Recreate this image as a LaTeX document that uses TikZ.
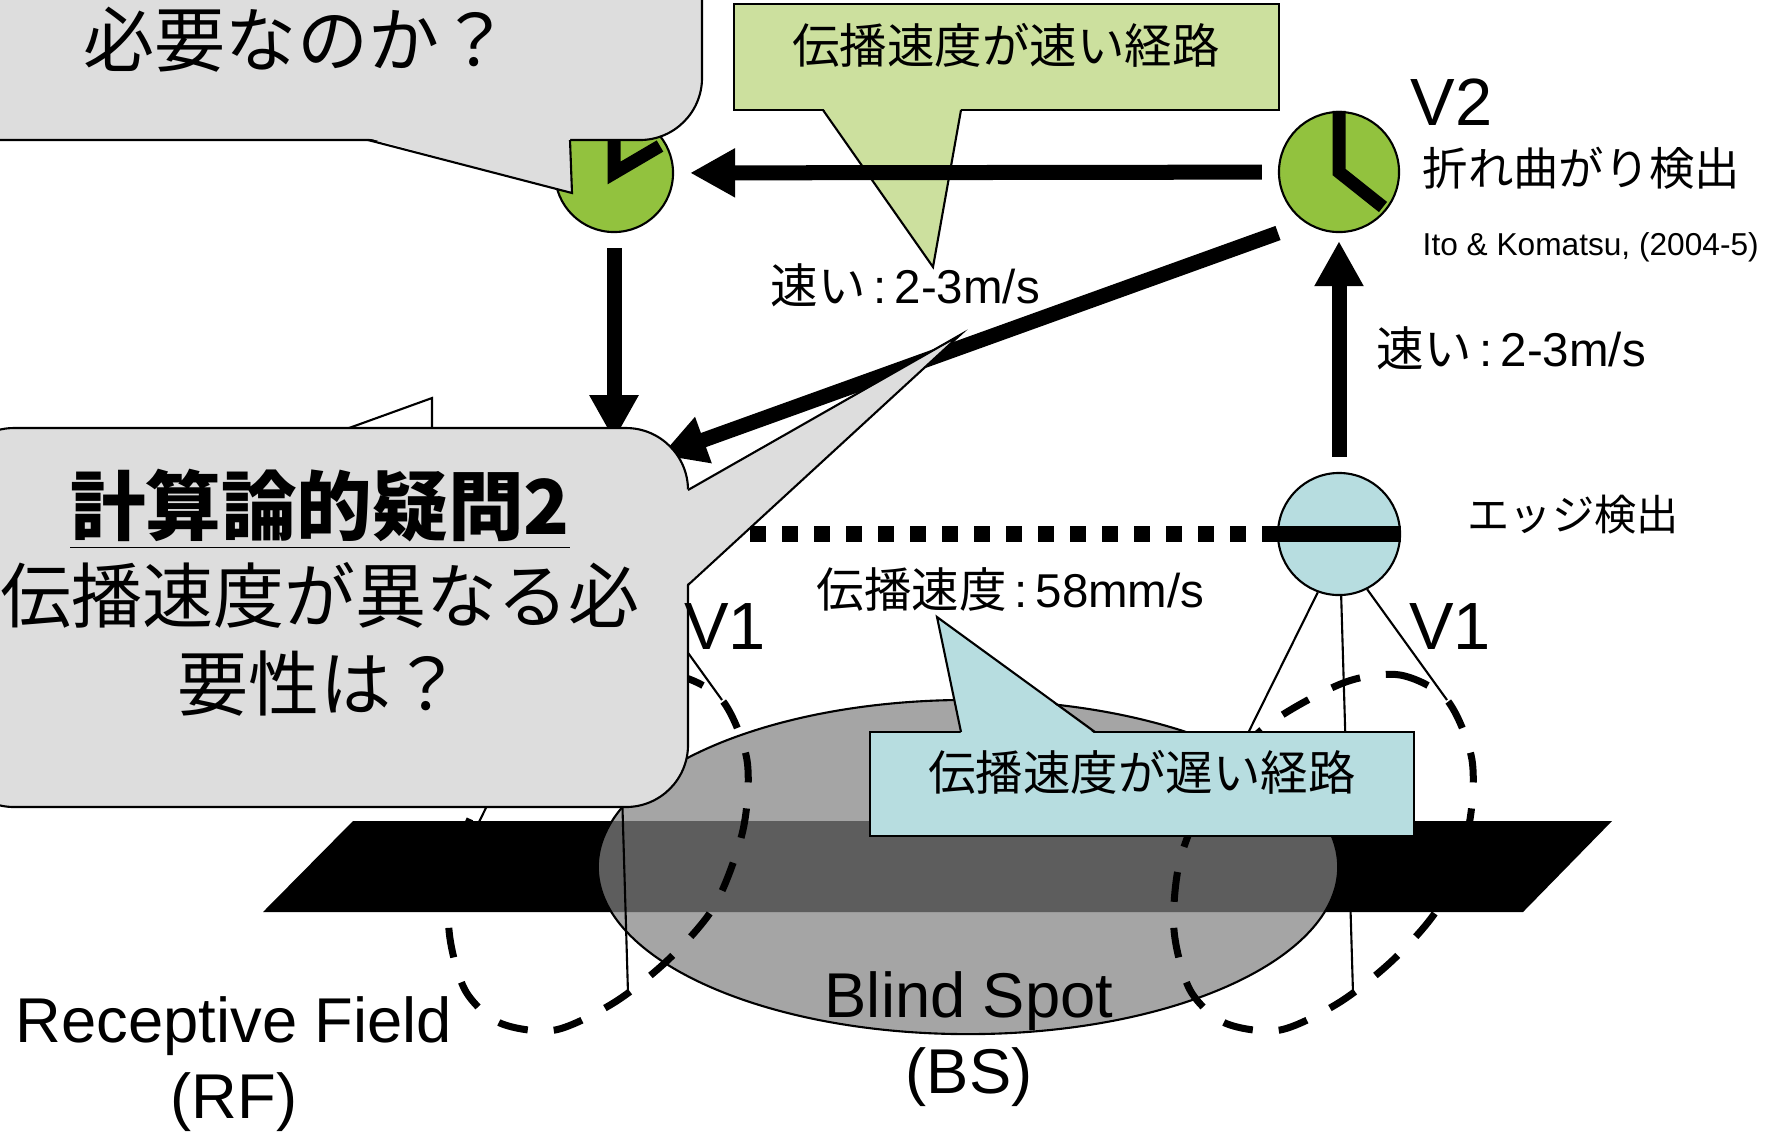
\documentclass[tikz,border=0pt]{standalone}
\usepackage{fontspec}
\setmainfont{Liberation Sans}
\newfontfamily\jp{Noto Sans CJK JP}
\usetikzlibrary{arrows.meta}
\definecolor{bubblegray}{RGB}{221,221,221}
\definecolor{fastgreen}{RGB}{204,224,158}
\definecolor{cellgreen}{RGB}{146,194,62}
\definecolor{slowblue}{RGB}{183,221,224}
\definecolor{spotgray}{RGB}{130,130,130}
\begin{document}
\begin{tikzpicture}[x=0.01cm,y=-0.01cm,
        >={Triangle[length=0.45cm,width=0.46cm]},
        rim/.style={line width=0.6pt},
        fat/.style={line width=0.15cm},
        hand/.style={line width=0.13cm},
        rf/.style={line width=0.07cm,dash pattern=on 0.3cm off 0.26cm},
        cell/.style={circle,draw,line width=0.6pt,minimum size=1.2cm,inner sep=0pt},
        lbl/.style={inner sep=0pt},
        big/.style={lbl,align=center,font=\jp\fontsize{20.2}{25}\selectfont},
        boxtext/.style={lbl,font=\jp\fontsize{13.5}{16}\selectfont},
        speed/.style={lbl,anchor=west,font=\fontsize{13.5}{16}\selectfont},
        area/.style={lbl,align=center,font=\fontsize{18}{21.5}\selectfont},
        vname/.style={lbl,font=\fontsize{19}{22}\selectfont}]
    \useasboundingbox (0,0) rectangle (1776,1144);
    \clip (0,0) rectangle (1776,1144);
    %% stimulus bar and blind spot
    \fill (353,821) -- (1612,821) -- (1523,912) -- (263,912) -- cycle;
    \draw[rim,fill=spotgray,fill opacity=0.72] (968,867) ellipse [x radius=3.7cm,y radius=1.67cm];
    %% V1 cells (the left one sits behind the question bubble)
    \node[cell,fill=slowblue,minimum size=1.22cm] (edgeR) at (1339,534) {};
    \node[circle,minimum size=1.22cm,inner sep=0pt] (edgeL) at (614,534) {};
    %% receptive fields
    \draw[rf] plot[smooth cycle] coordinates {(1343,683) (1400,675) (1447,700) (1472,760) (1468,830)
        (1440,905) (1395,958) (1340,1002) (1280,1030) (1225,1023) (1190,990) (1174,930)
        (1180,860) (1210,790) (1265,727)};
    \draw[rf] plot[smooth cycle] coordinates {(618,683) (675,675) (722,700) (747,760) (743,830)
        (715,905) (670,958) (615,1002) (555,1030) (500,1023) (465,990) (449,930)
        (455,860) (485,790) (540,727)};
    \coordinate (rfR1) at (1200,830);
    \coordinate (rfR2) at (1353,993);
    \coordinate (rfR3) at (1447,700);
    \coordinate (rfL1) at (475,830);
    \coordinate (rfL2) at (628,993);
    \coordinate (rfL3) at (722,700);
    \draw[rim] (edgeR.250) -- (rfR1);
    \draw[rim] (edgeR.272) -- (rfR2);
    \draw[rim] (edgeR.297) -- (rfR3);
    \draw[rim] (edgeL.250) -- (rfL1);
    \draw[rim] (edgeL.272) -- (rfL2);
    \draw[rim] (edgeL.297) -- (rfL3);
    %% slow horizontal link
    \draw[line width=0.16cm,dash pattern=on 0.16cm off 0.16cm] (750,534) -- (edgeR.west);
    \draw[line width=0.16cm] (edgeR.west) -- (edgeR.east);
    %% slow path bubble
    \draw[rim,fill=slowblue] (870,732) rectangle (1414,836);
    \fill[slowblue] (961,734) -- (937,617) -- (1095,734) -- cycle;
    \draw[rim] (961,732) -- (937,617) -- (1095,732);
    %% fast path bubble
    \draw[rim,fill=fastgreen] (734,4) rectangle (1279,110);
    \fill[fastgreen] (823,108) -- (933,267) -- (961,108) -- cycle;
    \draw[rim] (823,110) -- (933,267) -- (961,110);
    %% higher cells
    \node[cell,fill=cellgreen,minimum size=1.18cm] (top) at (614,173) {};
    \node[cell,fill=cellgreen] (v2) at (1339,172) {};
    \draw[hand] (top.north) -- (top.center) -- ++(46,-27);
    \draw[hand] (v2.north) -- (v2.center) -- ++(44,35);
    %% fast connections
    \coordinate (fastfrom) at (1278,233);
    \draw[fat,->,shorten <=0.16cm,shorten >=0.16cm] (v2) -- (top);
    \draw[fat,->,shorten <=0.15cm,shorten >=0.08cm] (edgeR) -- (v2);
    \draw[fat,->,shorten <=0.15cm,shorten >=0.32cm] (top) -- (edgeL);
    \draw[fat,->,shorten >=0.5cm] (fastfrom) -- (edgeL.north);
    %% question bubbles
    \draw[rim,fill=white] (349,428) -- (432,398) -- (432,428);
    \draw[rim,fill=bubblegray,rounded corners=0.62cm] (-48,428) rectangle (688,807);
    \fill[bubblegray] (686,490) -- (960,335) -- (686,585) -- cycle;
    \draw[rim] (688,490) -- (960,335) -- (688,585);
    \draw[rim,fill=bubblegray,rounded corners=0.62cm] (-108,-100) rectangle (702,140);
    \fill[bubblegray] (368,138) -- (572,193) -- (570,138) -- cycle;
    \draw[rim] (368,140) -- (572,193) -- (570,140);
    %% labels
    \node[big] (ask1) at (297,40) {必要なのか？};
    \node[big] (ask2) at (320,593) {{\fontsize{21.5}{25}\selectfont\bfseries\underline{計算論的疑問2}}\\伝播速度が異なる必\\要性は？};
    \node[boxtext] (fastpath) at (1006,45) {伝播速度が速い経路};
    \node[boxtext] (slowpath) at (1142,772) {伝播速度が遅い経路};
    \node[speed] (fast1) at (770,285) {{\jp 速い}\,:\,2-3m/s};
    \node[speed] (fast2) at (1376,348) {{\jp 速い}\,:\,2-3m/s};
    \node[speed] (slow) at (816,589) {{\jp 伝播速度}\,:\,58mm/s};
    \node[vname,anchor=west] (v2name) at (1410,102) {V2};
    \node[lbl,anchor=west,font=\jp\fontsize{12.9}{16}\selectfont] (bend) at (1422,168) {折れ曲がり検出};
    \node[lbl,anchor=west,font=\fontsize{9}{11}\selectfont] (cite) at (1422,247) {Ito \& Komatsu, (2004-5)};
    \node[lbl,anchor=west,font=\jp\fontsize{12}{14}\selectfont] (edgename) at (1467,515) {エッジ検出};
    \node[vname] (v1L) at (725,626) {V1};
    \node[vname] (v1R) at (1450,626) {V1};
    \node[area] (rfname) at (234,1064) {Receptive Field\\(RF)};
    \node[area] (bsname) at (969,1039) {Blind Spot\\(BS)};
\end{tikzpicture}
\end{document}
